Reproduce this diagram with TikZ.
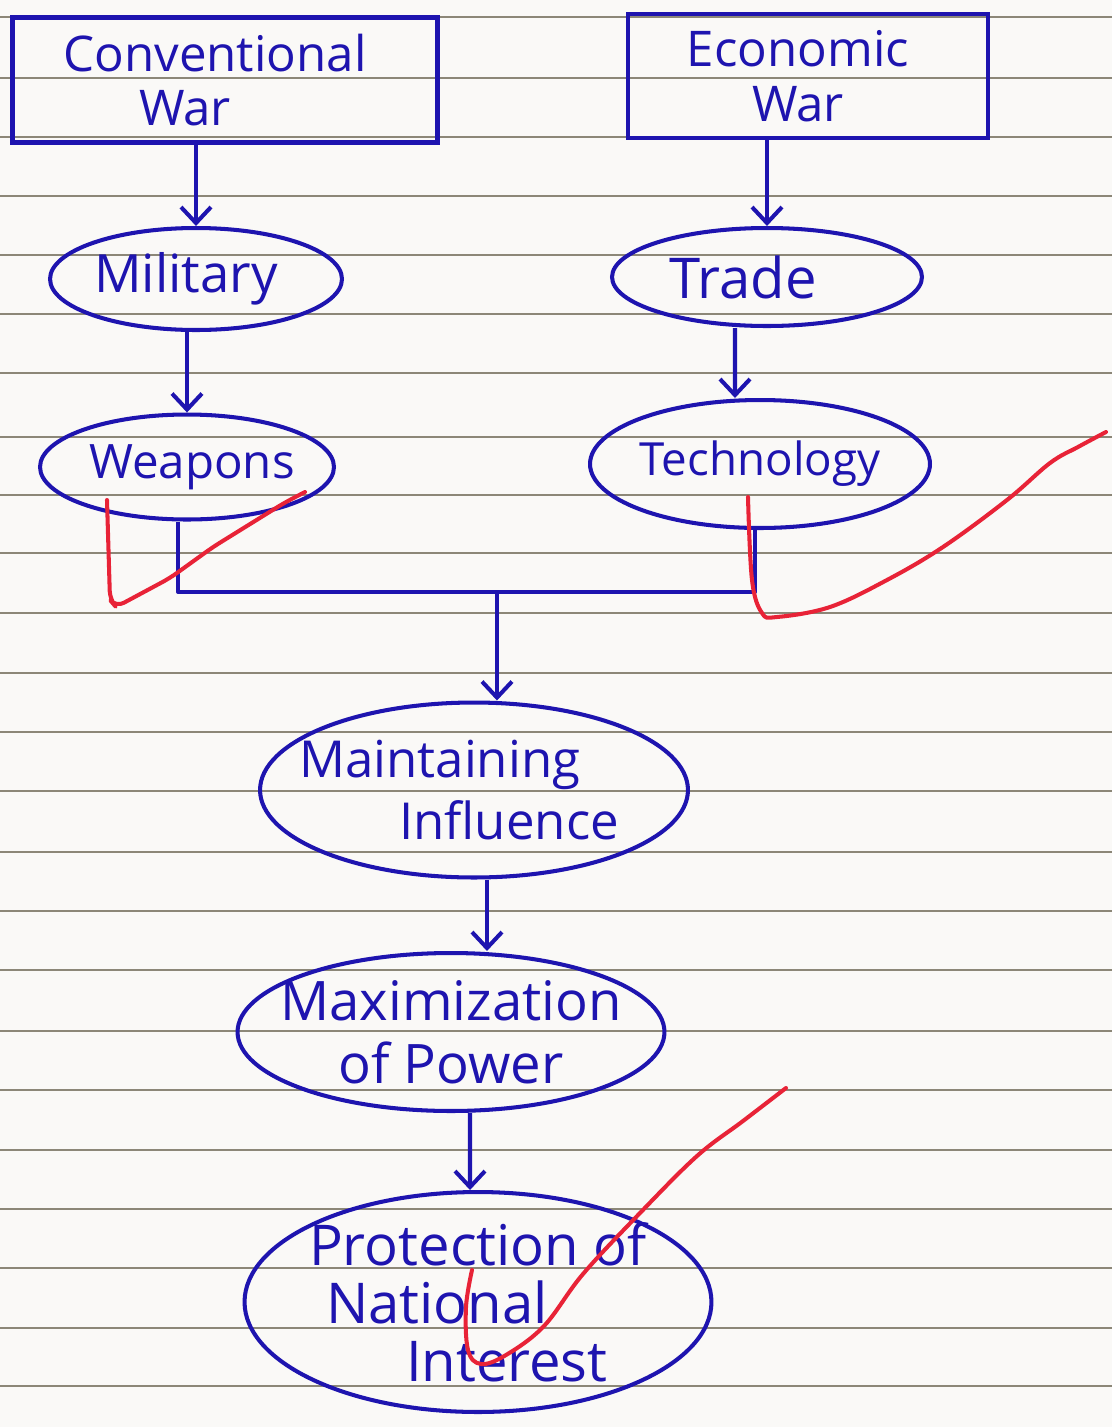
\documentclass[tikz,border=0pt]{standalone}
\usepackage{fontspec}
\setmainfont{Open Sans}
\usetikzlibrary{arrows.meta,shapes.geometric}
\definecolor{ink}{RGB}{30,20,175}
\definecolor{redink}{RGB}{232,35,55}
\definecolor{paper}{RGB}{250,249,247}
\definecolor{rulecol}{RGB}{140,135,120}
\begin{document}
\begin{tikzpicture}[x=0.02cm,y=-0.02cm,
  warbox/.style={draw=ink, line width=2.6pt, rectangle, inner sep=0pt, align=center, text=ink, font=\fontsize{28}{31}\selectfont},
  oval/.style={draw=ink, line width=2.3pt, ellipse, inner xsep=-1cm, inner ysep=-0.4cm, text=ink, font=\fontsize{30}{34}\selectfont},
  arr/.style={draw=ink, line width=2.3pt, -{Straight Barb[length=0.32cm,width=0.6cm]}},
  link/.style={draw=ink, line width=2.3pt, line join=round},
  tick/.style={draw=redink, line width=2.3pt, line cap=round, line join=round},
  ruling/.style={draw=rulecol, line width=1.2pt}]
\fill[paper] (0,0) rectangle (1112,1427);
\useasboundingbox (0,0) rectangle (1112,1427);
\foreach \yy in {17,78,137,196,255,314,373,437,495,553,613,673,732,791,852,911,970,1031,1090,1150,1209,1268,1328,1386}
  \draw[ruling] (0,\yy) -- (1112,\yy);

\node[warbox, minimum width=8.5cm, minimum height=2.5cm] (conv) at (225,80) {Conventional\hspace*{0.4cm}\\War\hspace*{1.6cm}};
\node[warbox, minimum width=7.2cm, minimum height=2.48cm] (econ) at (808,76) {Economic\hspace*{0.4cm}\\War\hspace*{0.4cm}};
\node[oval, minimum width=5.84cm, minimum height=2.04cm] (mil) at (196,279) {Military\hspace*{0.4cm}};
\node[oval, minimum width=5.88cm, minimum height=2.1cm, font=\fontsize{27}{30}\selectfont] (weap) at (187,467) {\hspace*{0.2cm}Weapons};
\node[oval, minimum width=6.2cm, minimum height=1.96cm, font=\fontsize{32}{34}\selectfont] (trade) at (767,277) {Trade\hspace*{0.96cm}};
\node[oval, minimum width=6.8cm, minimum height=2.56cm, font=\fontsize{26}{30}\selectfont] (tech) at (760,464) {Technology};
\node[oval, minimum width=8.56cm, minimum height=3.5cm, align=left, font=\fontsize{29}{35}\selectfont] (maint) at (474,790) {Maintaining\\\hspace*{2cm}Influence\hspace*{0.6cm}};
\node[oval, minimum width=8.54cm, minimum height=3.16cm, align=center, font=\fontsize{31}{36}\selectfont] (max) at (451,1032) {Maximization\\of Power};
\node[oval, minimum width=9.34cm, minimum height=4.4cm, align=left, font=\fontsize{32}{33}\selectfont] (prot) at (478,1302) {Protection of\\\hspace*{0.34cm}National\\\hspace*{1.94cm}Interest};

\draw[arr] (conv.south -| mil.north) -- (mil.north);
\draw[arr] (mil.south -| weap.north) -- (weap.north);
\draw[arr] (econ.south -| trade.north) -- (trade.north);
\draw[arr] ([xshift=-0.64cm]trade.south) -- ([xshift=-0.5cm]tech.north);
\coordinate (j) at (497,592);
\draw[link] ([xshift=-0.18cm]weap.south) |- (j) -| ([xshift=-0.1cm]tech.south);
\draw[arr] (j) -- (maint.north -| j);
\draw[arr] ([xshift=0.26cm]maint.south) -- ([xshift=0.26cm]maint.south |- max.north);
\draw[arr] ([xshift=0.38cm]max.south) -- ([xshift=-0.16cm]prot.north);

\draw[tick, rounded corners=5pt] (107,500) -- (110,600) -- (116,607) -- (170,578) -- (213,547) -- (284,503) -- (305,492);
\draw[tick] plot[smooth, tension=0.6] coordinates {(748,497) (752,580) (762,613) (777,617) (830,607) (887,580) (943,547) (1007,500) (1050,463) (1078,447) (1106,432)};
\draw[tick] plot[smooth, tension=0.6] coordinates {(472,1270) (466,1307) (468,1350) (481,1364) (506,1355) (544,1326) (583,1274) (640,1213) (697,1156) (743,1121) (786,1088)};
\end{tikzpicture}
\end{document}
